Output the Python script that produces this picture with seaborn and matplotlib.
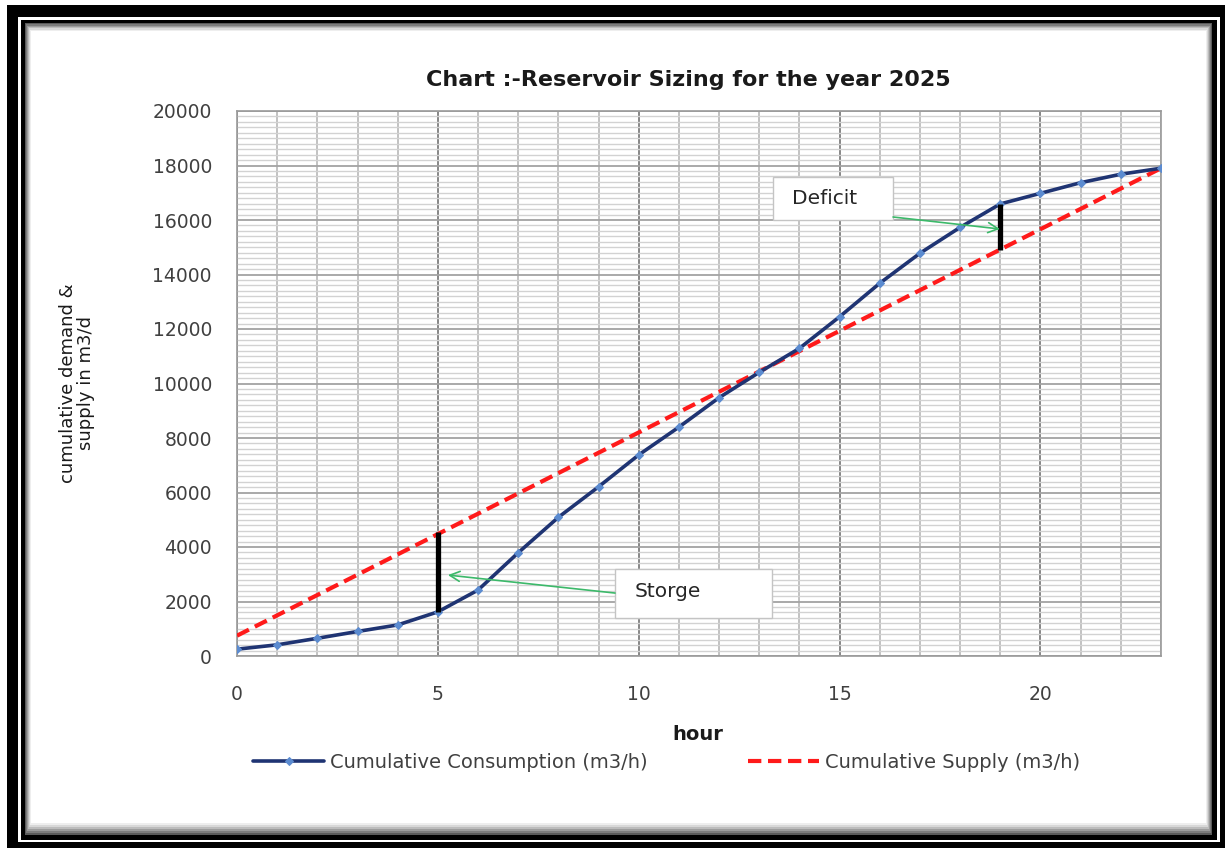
import matplotlib
matplotlib.use("Agg")
import matplotlib.pyplot as plt
import matplotlib.patches as patches
import seaborn as sns
import pandas as pd

# data
hours = list(range(24))
consumption = [250, 410, 650, 900, 1140, 1620, 2420, 3790, 5090, 6210, 7380, 8400,
               9480, 10410, 11290, 12450, 13680, 14780, 15730, 16590, 16980, 17370,
               17680, 17900]
supply = [746, 1492, 2238, 2983, 3729, 4475, 5221, 5967, 6713, 7458, 8204, 8950,
          9696, 10442, 11188, 11933, 12679, 13425, 14171, 14917, 15663, 16408,
          17154, 17900]
x_ticks = [0, 5, 10, 15, 20]
y_ticks = list(range(0, 20001, 2000))
storage_hour = 5
deficit_hour = 19

df = pd.DataFrame({"hour": hours, "consumption": consumption, "supply": supply})

W, H = 1228, 848
sns.set_theme(style="white")
plt.rcParams['font.family'] = ['DejaVu Sans']

fig = plt.figure(figsize=(W / 100, H / 100), dpi=100)


def frame_rect(x0, y0, x1, y1, color, z):
    r = patches.Rectangle((x0 / W, 1 - y1 / H), (x1 - x0) / W, (y1 - y0) / H,
                          transform=fig.transFigure, facecolor=color,
                          edgecolor="none", zorder=z)
    fig.add_artist(r)


# picture frame around the chart
frame_rect(7, 5, 1225, 848, "black", -20)
frame_rect(18, 17, 1220, 842, "white", -19)
frame_rect(21, 20, 1217, 840, "black", -18)
shades = ["#5a5a5a", "#7c7c7c", "#9c9c9c", "#bcbcbc", "#d8d8d8", "#eeeeee"]
for i, c in enumerate(shades):
    frame_rect(25 + i, 23 + i * 1.3, 1212 - i, 835 - i * 2, c, -17 + i)
frame_rect(31, 31, 1206, 823, "white", -5)

ax = fig.add_axes([237 / W, 1 - 656 / H, (1161 - 237) / W, (656 - 111) / H])
ax.set_facecolor("white")

sns.lineplot(data=df, x="hour", y="consumption", ax=ax, color="#1f3473", lw=2.6,
             marker="D", markersize=4, markerfacecolor="#5b8bd0",
             markeredgecolor="#5b8bd0", label="Cumulative Consumption (m3/h)", zorder=4)
sns.lineplot(data=df, x="hour", y="supply", ax=ax, color="#ff1a1a", lw=3,
             linestyle="--", label="Cumulative Supply (m3/h)", zorder=3)
ax.lines[1].set_dashes((3.2, 1.6))

# storage / deficit bars
ax.vlines(hours[storage_hour], consumption[storage_hour], supply[storage_hour] + 80,
          color="black", lw=3.8, zorder=5)
ax.vlines(hours[deficit_hour], supply[deficit_hour], consumption[deficit_hour],
          color="black", lw=3.8, zorder=5)

ax.set_xlim(0, 23)
ax.set_ylim(0, 20000)
ax.set_xticks(x_ticks)
ax.set_xticks(hours, minor=True)
ax.set_yticks(y_ticks)
ax.set_yticks(list(range(0, 20001, 200)), minor=True)
ax.tick_params(which="both", length=0)
ax.tick_params(axis="y", labelsize=13.5, labelcolor="#404040", pad=18)
ax.tick_params(axis="x", labelsize=13.5, labelcolor="#404040", pad=21)

ax.set_axisbelow(True)
ax.grid(which="minor", axis="y", color="#d2d2d2", lw=1.0)
ax.grid(which="minor", axis="x", color="#bdbdbd", lw=1.3)
ax.grid(which="major", axis="y", color="#a3a3a3", lw=1.3)
ax.grid(which="major", axis="x", color="#868686", lw=1.4)
for s in ax.spines.values():
    s.set_color("#9a9a9a")
    s.set_linewidth(1.2)

# annotation boxes
ax.add_patch(patches.Rectangle((9.41, 1394), 13.32 - 9.41, 3193 - 1394,
                               facecolor="white", edgecolor="#c4c4c4", lw=1, zorder=6))
ax.text(9.9, 2360, "Storge", fontsize=14.5, color="#262626", va="center", zorder=7)
ax.annotate("", xy=(5.25, 2970), xytext=(9.41, 2310),
            arrowprops=dict(arrowstyle="->,head_length=0.6,head_width=0.3",
                            color="#3cb96a", lw=1.2, shrinkA=0, shrinkB=0), zorder=7)

ax.add_patch(patches.Rectangle((13.34, 16000), 16.33 - 13.34, 17578 - 16000,
                               facecolor="white", edgecolor="#c4c4c4", lw=1, zorder=6))
ax.text(13.82, 16800, "Deficit", fontsize=14.5, color="#262626", va="center", zorder=7)
ax.annotate("", xy=(18.99, 15670), xytext=(16.33, 16110),
            arrowprops=dict(arrowstyle="->,head_length=0.6,head_width=0.3",
                            color="#3cb96a", lw=1.2, shrinkA=0, shrinkB=0), zorder=7)

# labels
ax.set_xlabel("")
ax.set_ylabel("")
fig.text(688 / W, 1 - 80 / H, "Chart :-Reservoir Sizing for the year 2025",
         ha="center", va="center", fontsize=16, fontweight="bold", color="#1a1a1a")
fig.text(698 / W, 1 - 735 / H, "hour", ha="center", va="center", fontsize=14,
         fontweight="bold", color="#1a1a1a")
fig.text(77 / W, 1 - 383 / H, "cumulative demand &\nsupply in m3/d", rotation=90,
         ha="center", va="center", fontsize=13, linespacing=0.95, color="#1a1a1a")

# legend, one entry at each position
handles, labels = ax.get_legend_handles_labels()
ax.get_legend().remove()
fs = 14
fpx = fs * 100 / 72
for h, l, x0 in zip(handles, labels, [253, 748]):
    fig.legend([h], [l], loc="center left", bbox_to_anchor=(x0 / W, 1 - 762 / H),
               frameon=False, borderpad=0, borderaxespad=0, fontsize=fs,
               handlelength=71 / fpx, handletextpad=6 / fpx, labelcolor="#404040")

fig.savefig("out.png", dpi=100, facecolor="white")
